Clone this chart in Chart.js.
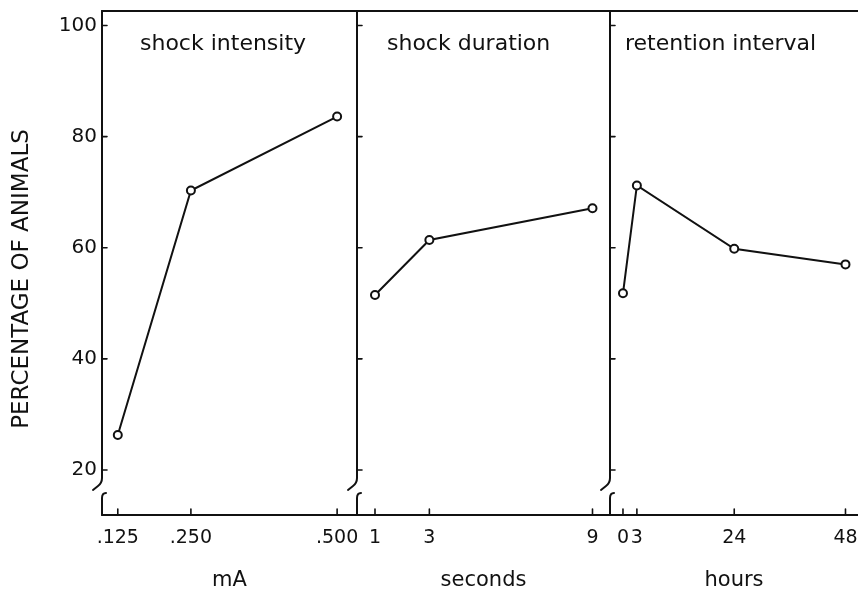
<!DOCTYPE html>
<html>
<head>
<meta charset="utf-8">
<script src="https://cdn.jsdelivr.net/npm/chart.js@4.4.0/dist/chart.umd.min.js"></script>
<style>
  html, body { margin: 0; padding: 0; background: #fff; }
  #wrap { position: relative; width: 858px; height: 591px; background: #fff; }
  #wrap canvas { position: absolute; left: 0; top: 0; }
</style>
</head>
<body>
<div id="wrap">
  <canvas id="c1" width="858" height="591"></canvas>
  <canvas id="c2" width="858" height="591"></canvas>
  <canvas id="c3" width="858" height="591"></canvas>
</div>
<script>
// shared y axis
const yTicks = [20, 40, 60, 80, 100];
const yTitle = 'PERCENTAGE OF ANIMALS';

// shock intensity
const intensityMA = [0.125, 0.25, 0.5];
const intensityPct = [26.3, 70.3, 83.6];
const intensityLabels = ['.125', '.250', '.500'];

// shock duration
const durationSec = [1, 3, 9];
const durationPct = [51.5, 61.4, 67.1];
const durationLabels = ['1', '3', '9'];

// retention interval
const retentionHours = [0, 3, 24, 48];
const retentionPct = [51.8, 71.2, 59.8, 57.0];
const retentionLabels = ['0', '3', '24', '48'];

const INK = '#111';
const FONT = "'DejaVu Sans', sans-serif";

// layout of the three panels (pixels in the 858x591 page)
const panels = [
  { id: 'c1', title: 'shock intensity', unit: 'mA', xs: intensityMA, ys: intensityPct,
    labels: intensityLabels, min: 0.098, max: 0.534, padL: 0, padR: 501, titleDx: 38, showY: true },
  { id: 'c2', title: 'shock duration', unit: 'seconds', xs: durationSec, ys: durationPct,
    labels: durationLabels, min: 0.338, max: 9.644, padL: 357, padR: 248, titleDx: 30, showY: false },
  { id: 'c3', title: 'retention interval', unit: 'hours', xs: retentionHours, ys: retentionPct,
    labels: retentionLabels, min: -2.8, max: 50.7, padL: 610, padR: 0, titleDx: 15, showY: false }
];

// frame, broken left axis, inward ticks, panel title
const framePlugin = {
  id: 'panelFrame',
  afterDraw(chart, args, opts) {
    const { ctx, chartArea: a, scales: { x, y } } = chart;
    const L = a.left;
    ctx.save();
    ctx.strokeStyle = INK;
    ctx.lineWidth = 2;
    ctx.lineCap = 'round';

    ctx.beginPath();
    ctx.moveTo(L, a.top); ctx.lineTo(a.right, a.top);
    ctx.moveTo(L, a.bottom); ctx.lineTo(a.right, a.bottom);
    ctx.stroke();

    // left axis with break under the lowest tick
    const y20 = y.getPixelForValue(yTicks[0]);
    ctx.beginPath();
    ctx.moveTo(L, a.top);
    ctx.lineTo(L, y20 + 8);
    ctx.quadraticCurveTo(L, y20 + 13, L - 4, y20 + 16);
    ctx.lineTo(L - 9, y20 + 20);
    ctx.stroke();
    ctx.beginPath();
    ctx.moveTo(L + 4, y20 + 23);
    ctx.quadraticCurveTo(L, y20 + 23, L, y20 + 28);
    ctx.lineTo(L, a.bottom);
    ctx.stroke();

    ctx.lineWidth = 1.6;
    ctx.beginPath();
    yTicks.forEach(v => {
      const py = y.getPixelForValue(v);
      ctx.moveTo(L, py); ctx.lineTo(L + 5, py);
    });
    x.ticks.forEach(t => {
      const px = x.getPixelForValue(t.value);
      ctx.moveTo(px, a.bottom); ctx.lineTo(px, a.bottom - 6);
    });
    ctx.stroke();

    ctx.fillStyle = INK;
    ctx.font = '22px ' + FONT;
    ctx.textAlign = 'left';
    ctx.textBaseline = 'alphabetic';
    ctx.fillText(opts.title, L + opts.dx, 50);

    if (opts.yTitle) {
      ctx.translate(22, 279);
      ctx.rotate(-Math.PI / 2);
      ctx.font = '23px ' + FONT;
      ctx.textAlign = 'center';
      ctx.textBaseline = 'middle';
      ctx.fillText(opts.yTitle, 0, 0);
    }
    ctx.restore();
  }
};

panels.forEach(p => {
  new Chart(document.getElementById(p.id), {
    type: 'line',
    data: {
      datasets: [{
        data: p.xs.map((x, i) => ({ x: x, y: p.ys[i] })),
        borderColor: INK,
        borderWidth: 2,
        tension: 0,
        pointRadius: 4,
        pointBorderWidth: 2,
        pointBackgroundColor: '#fff',
        pointBorderColor: INK
      }]
    },
    options: {
      responsive: false,
      animation: false,
      events: [],
      layout: { autoPadding: false, padding: { top: 11, left: p.padL, right: p.padR, bottom: 0 } },
      plugins: {
        legend: { display: false },
        tooltip: { enabled: false },
        panelFrame: { title: p.title, dx: p.titleDx, yTitle: p.showY ? yTitle : null }
      },
      scales: {
        x: {
          type: 'linear',
          bounds: 'data',
          min: p.min,
          max: p.max,
          grid: { display: false, drawTicks: false },
          border: { display: false },
          afterBuildTicks: s => { s.ticks = p.xs.map(v => ({ value: v })); },
          ticks: {
            autoSkip: false, maxRotation: 0, padding: 12, color: INK,
            font: { family: FONT, size: 19 },
            callback: (v, i) => p.labels[i]
          },
          title: {
            display: true, text: p.unit, color: INK,
            font: { family: FONT, size: 21, lineHeight: 1 },
            padding: { top: 0, bottom: 0 }
          },
          afterFit: s => { s.height = 76; s.paddingLeft = 0; s.paddingRight = 0; }
        },
        y: {
          display: p.showY,
          bounds: 'data',
          min: 11.9,
          max: 102.6,
          grid: { display: false, drawTicks: false },
          border: { display: false },
          afterBuildTicks: s => { s.ticks = yTicks.map(v => ({ value: v })); },
          ticks: { padding: 5, color: INK, font: { family: FONT, size: 20 } },
          afterFit: s => { s.width = p.showY ? 102 : 0; s.paddingTop = 0; s.paddingBottom = 0; }
        }
      }
    },
    plugins: [framePlugin]
  });
});
</script>
</body>
</html>
